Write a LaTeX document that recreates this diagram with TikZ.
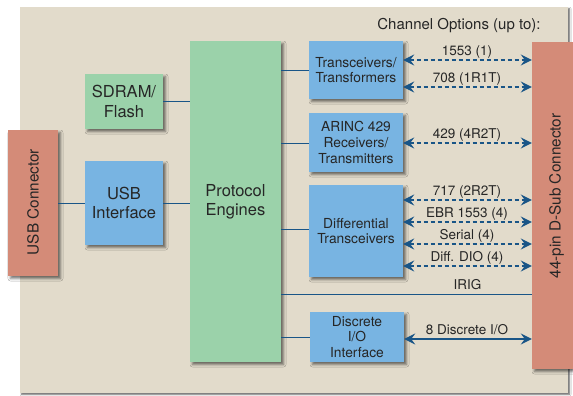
\documentclass[tikz,border=0pt]{standalone}
\usepackage{fontspec}
\setmainfont{TeX Gyre Heros}
\usetikzlibrary{arrows.meta,shadows.blur}

\definecolor{panelbg}{RGB}{226,219,203}
\definecolor{boxblue}{RGB}{120,180,226}
\definecolor{boxgreen}{RGB}{155,210,170}
\definecolor{boxsalmon}{RGB}{212,139,120}
\definecolor{wirecol}{RGB}{25,85,135}
\definecolor{ink}{RGB}{38,38,38}

\tikzset{
  box/.style={inner sep=0pt, align=center, text=ink,
    blur shadow={shadow xshift=2.5pt, shadow yshift=-2.5pt,
      shadow blur radius=2.5pt, shadow opacity=55}},
  bigtext/.style={font=\fontsize{16.5}{19.3}\selectfont},
  smalltext/.style={font=\fontsize{13.8}{15.8}\selectfont},
  bluebox/.style={box, fill=boxblue, smalltext, minimum width=94pt},
  wire/.style={draw=wirecol, line width=1pt},
  bus/.style={draw=wirecol, line width=1.3pt,
    {Stealth[length=11pt,width=11pt,inset=4pt]}-{Stealth[length=11pt,width=11pt,inset=4pt]}},
  dashedbus/.style={bus, dash pattern=on 4pt off 3pt},
  lbl/.style={text=ink, font=\fontsize{13.5}{15}\selectfont, anchor=base, inner sep=0pt}
}

\begin{document}
\begin{tikzpicture}[x=1pt,y=-1pt]
  \useasboundingbox (0,0) rectangle (573,396);
  \fill[white] (0,0) rectangle (573,396);

  % board panel
  \path[fill=panelbg, blur shadow={shadow xshift=1.5pt, shadow yshift=-1.5pt,
      shadow blur radius=1.5pt, shadow opacity=60}] (20,7) rectangle (568,393);

  \node[text=ink, font=\fontsize{15}{17}\selectfont, anchor=base, inner sep=0pt]
    (hdr) at (459,29.3) {Channel Options (up to):};

  % main blocks
  \node[box, fill=boxsalmon, minimum width=50pt, minimum height=146pt] (usbc) at (33,203) {};
  \node[rotate=90, text=ink, font=\fontsize{15.3}{17}\selectfont, inner sep=0pt]
    (usbctext) at ([yshift=1pt]usbc.center) {USB Connector};

  \node[box, fill=boxgreen, bigtext, minimum width=78pt, minimum height=55pt] (sdram) at (124,101.5) {SDRAM/\\Flash};
  \node[box, fill=boxblue, bigtext, minimum width=78pt, minimum height=84pt] (usbi) at (124,203) {USB\\Interface};
  \node[box, fill=boxgreen, bigtext, minimum width=91pt, minimum height=321pt] (proto) at (235.5,201.5) {Protocol\\Engines};

  \node[bluebox, minimum height=58pt] (xcvr) at (356,70) {Transceivers/\\Transformers};
  \node[bluebox, minimum height=59pt] (arinc) at (356,142.5) {ARINC 429\\Receivers/\\Transmitters};
  \node[bluebox, minimum height=92pt] (diff) at (356,231) {Differential\\Transceivers};
  \node[bluebox, minimum height=50pt] (disc) at (357,337) {Discrete\\I/O\\Interface};

  \node[box, fill=boxsalmon, minimum width=46pt, minimum height=327pt] (dsub) at (555,205.5) {};
  \node[rotate=90, text=ink, font=\fontsize{15.3}{17}\selectfont, inner sep=0pt]
    (dsubtext) at (556.5,196) {44-pin D-Sub Connector};

  % internal links
  \draw[wire] (usbc.east |- usbi.west) -- (usbi.west);
  \draw[wire] (usbi.east) -- (usbi.east -| proto.west);
  \draw[wire] (sdram.east) -- (sdram.east -| proto.west);
  \draw[wire] (proto.east |- 0,71) -- (xcvr.west |- 0,71);
  \draw[wire] (proto.east |- 0,143) -- (arinc.west |- 0,143);
  \draw[wire] (proto.east |- 0,229) -- (diff.west |- 0,229);
  \draw[wire] (proto.east |- 0,337) -- (disc.west |- 0,337);
  \draw[wire] (proto.east |- 0,294) -- (dsub.west |- 0,294);
  \node[lbl] (lirig) at (467.5,289.3) {IRIG};

  % channel buses to the D-Sub connector
  \draw[dashedbus] (xcvr.east |- 0,60) -- (dsub.west |- 0,60);
  \node[lbl] (l1553) at (467,55.5) {1553 (1)};
  \draw[dashedbus] (xcvr.east |- 0,87) -- (dsub.west |- 0,87);
  \node[lbl] (l708) at (467,82.5) {708 (1R1T)};

  \draw[dashedbus] (arinc.east |- 0,143) -- (dsub.west |- 0,143);
  \node[lbl] (l429) at (467,138.5) {429 (4R2T)};

  \draw[dashedbus] (diff.east |- 0,200) -- (dsub.west |- 0,200);
  \node[lbl] (l717) at (467,195.5) {717 (2R2T)};
  \draw[dashedbus] (diff.east |- 0,222) -- (dsub.west |- 0,222);
  \node[lbl] (lebr) at (467,217.5) {EBR 1553 (4)};
  \draw[dashedbus] (diff.east |- 0,244) -- (dsub.west |- 0,244);
  \node[lbl] (lser) at (467,239.5) {Serial (4)};
  \draw[dashedbus] (diff.east |- 0,266) -- (dsub.west |- 0,266);
  \node[lbl] (ldio) at (467,261.5) {Diff. DIO (4)};

  \draw[bus] (disc.east |- 0,339) -- (dsub.west |- 0,339);
  \node[lbl] (ldisc) at (467,334.3) {8 Discrete I/O};
\end{tikzpicture}
\end{document}
